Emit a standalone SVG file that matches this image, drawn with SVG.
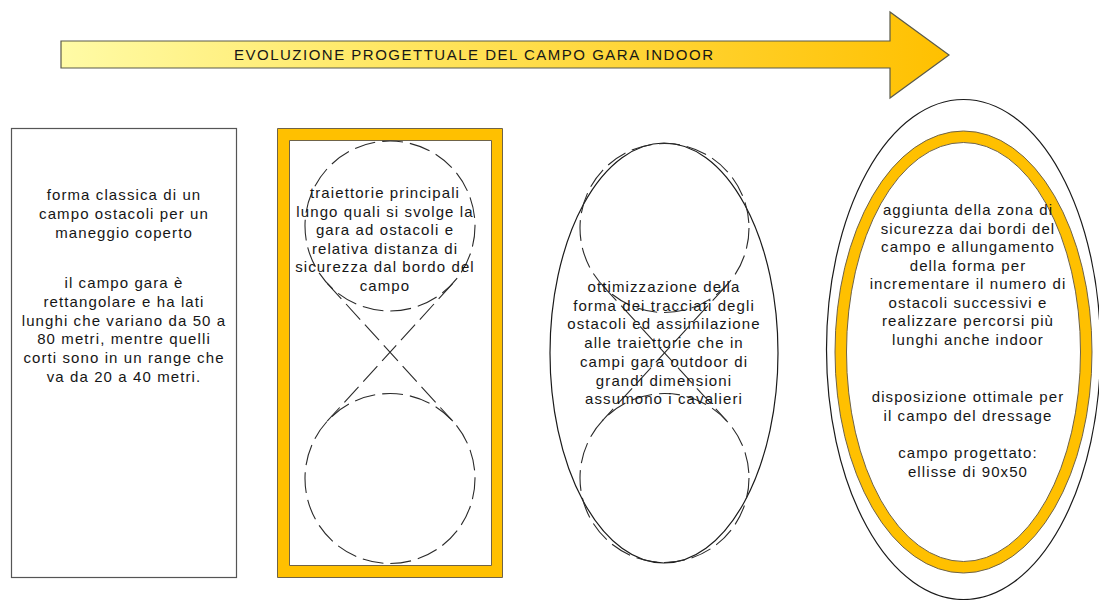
<svg xmlns="http://www.w3.org/2000/svg" width="1099" height="600" viewBox="0 0 1099 600">
  <defs>
    <linearGradient id="arrowFill" x1="61" y1="0" x2="949" y2="0" gradientUnits="userSpaceOnUse">
      <stop offset="0" stop-color="#FFFBA6"/>
      <stop offset="0.35" stop-color="#FFE866"/>
      <stop offset="0.7" stop-color="#FFD22E"/>
      <stop offset="1" stop-color="#FFC000"/>
    </linearGradient>
    <style>
      .lbl { font-family: "Liberation Sans", Arial, sans-serif; font-size: 15px; letter-spacing: 1.1px; fill: #161616; text-anchor: middle; }
      .wide { letter-spacing: 1.3px; }
      .title { font-family: "Liberation Sans", Arial, sans-serif; font-size: 15px; letter-spacing: 1.5px; fill: #161616; }
      .frame { fill: #ffffff; stroke: #555555; stroke-width: 1.2; }
      .band { fill: #FFC000; fill-rule: evenodd; stroke: #6f6347; stroke-width: 1; }
      .track { fill: none; stroke: #2a2a2a; stroke-width: 1.1; stroke-dasharray: 21 7; }
      .outline { fill: none; stroke: #1a1a1a; stroke-width: 1.2; }
    </style>
  </defs>

  <rect width="1099" height="600" fill="#ffffff"/>

  <!-- progression arrow -->
  <g id="progress-arrow">
    <polygon points="61,41 890,41 890,12 949,55 890,98 890,68 61,68" fill="url(#arrowFill)" stroke="#5a5a4a" stroke-width="1.2"/>
    <text class="title" x="234" y="60">EVOLUZIONE PROGETTUALE DEL CAMPO GARA INDOOR</text>
  </g>

  <!-- stage 1: classic rectangular field -->
  <g id="stage-classic">
    <rect class="frame" x="11.5" y="128.5" width="225" height="449"/>
    <g class="wide">
      <text class="lbl" x="124" y="200">forma classica di un</text>
      <text class="lbl" x="124" y="219">campo ostacoli per un</text>
      <text class="lbl" x="124" y="237.5">maneggio coperto</text>
      <text class="lbl" x="124" y="288">il campo gara è</text>
      <text class="lbl" x="124" y="307">rettangolare e ha lati</text>
      <text class="lbl" x="124" y="325.5">lunghi che variano da 50 a</text>
      <text class="lbl" x="124" y="344">80 metri, mentre quelli</text>
      <text class="lbl" x="124" y="363">corti sono in un range che</text>
      <text class="lbl" x="124" y="381.5">va da 20 a 40 metri.</text>
    </g>
  </g>

  <!-- stage 2: rectangle with safety band and figure-eight trajectories -->
  <g id="stage-trajectories">
    <path class="band" d="M277.5,128.5 H502.5 V577.5 H277.5 Z M289.5,140.5 V565.5 H491.5 V140.5 Z"/>
    <circle class="track" cx="390" cy="226" r="85"/>
    <circle class="track" cx="390" cy="478.5" r="85"/>
    <line class="track" x1="327.2" y1="283.3" x2="452.8" y2="421.2"/>
    <line class="track" x1="452.8" y1="283.3" x2="327.2" y2="421.2"/>
    <text class="lbl" x="385" y="198">traiettorie principali</text>
    <text class="lbl" x="385" y="216.5">lungo quali si svolge la</text>
    <text class="lbl" x="385" y="235">gara ad ostacoli e</text>
    <text class="lbl" x="385" y="253.5">relativa distanza di</text>
    <text class="lbl" x="385" y="272">sicurezza dal bordo del</text>
    <text class="lbl" x="385" y="290.5">campo</text>
  </g>

  <!-- stage 3: ellipse enclosing the optimised trajectories -->
  <g id="stage-optimised">
    <ellipse class="outline" cx="664" cy="353" rx="114" ry="210"/>
    <circle class="track" cx="664.5" cy="228" r="84.5"/>
    <circle class="track" cx="664.5" cy="478" r="84.5"/>
    <line class="track" x1="602.2" y1="285.1" x2="726.8" y2="420.9"/>
    <line class="track" x1="726.8" y1="285.1" x2="602.2" y2="420.9"/>
    <text class="lbl" x="664" y="292">ottimizzazione della</text>
    <text class="lbl" x="664" y="310.7">forma dei tracciati degli</text>
    <text class="lbl" x="664" y="329.4">ostacoli ed assimilazione</text>
    <text class="lbl" x="664" y="348.1">alle traiettorie che in</text>
    <text class="lbl" x="664" y="366.8">campi gara outdoor di</text>
    <text class="lbl" x="664" y="385.5">grandi dimensioni</text>
    <text class="lbl" x="664" y="404.2">assumono i cavalieri</text>
  </g>

  <!-- stage 4: designed elliptical field with safety zone -->
  <g id="stage-final">
    <ellipse class="outline" cx="963.5" cy="349.5" rx="137" ry="250"/>
    <path class="band" d="M835,352 A128.5,221 0 1,0 1092,352 A128.5,221 0 1,0 835,352 Z M846.5,352 A117,209.5 0 1,0 1080.5,352 A117,209.5 0 1,0 846.5,352 Z"/>
    <text class="lbl" x="968" y="215">aggiunta della zona di</text>
    <text class="lbl" x="968" y="233.5">sicurezza dai bordi del</text>
    <text class="lbl" x="968" y="252">campo e allungamento</text>
    <text class="lbl" x="968" y="270.5">della forma per</text>
    <text class="lbl" x="968" y="289">incrementare il numero di</text>
    <text class="lbl" x="968" y="307.5">ostacoli successivi e</text>
    <text class="lbl" x="968" y="326">realizzare percorsi più</text>
    <text class="lbl" x="968" y="344.5">lunghi anche indoor</text>
    <text class="lbl" x="968" y="402">disposizione ottimale per</text>
    <text class="lbl" x="968" y="420.5">il campo del dressage</text>
    <text class="lbl" x="968" y="458">campo progettato:</text>
    <text class="lbl" x="968" y="476.5">ellisse di 90x50</text>
  </g>
</svg>
